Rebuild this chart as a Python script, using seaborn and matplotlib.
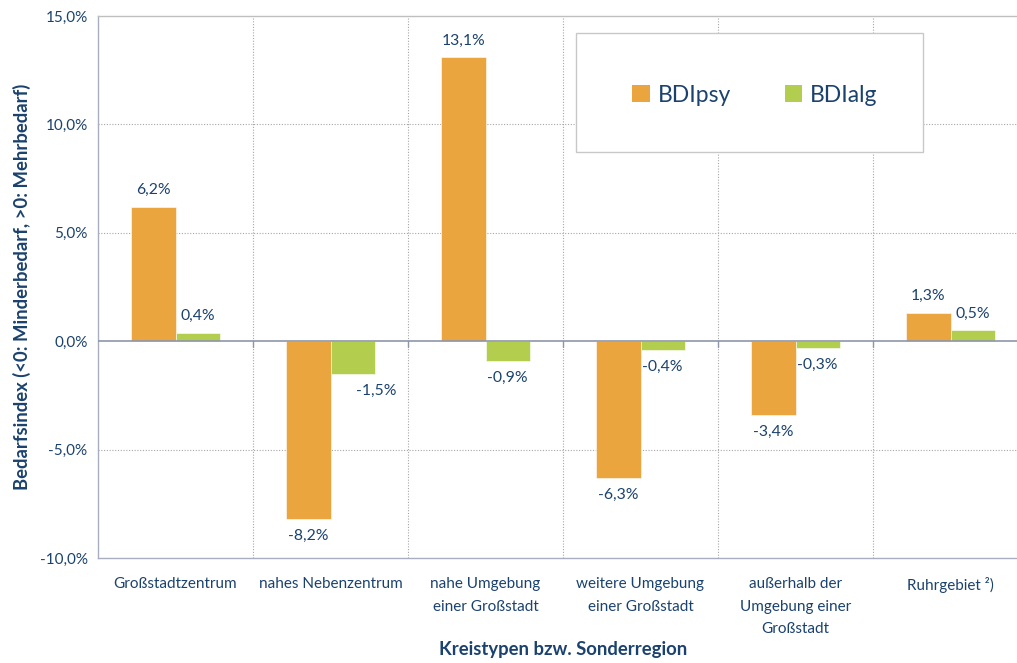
import matplotlib
matplotlib.use("Agg")
import matplotlib.pyplot as plt
from matplotlib.patches import Rectangle, Patch
from matplotlib.ticker import FuncFormatter
import seaborn as sns
import pandas as pd

categories = ["Großstadtzentrum", "nahes Nebenzentrum", "nahe Umgebung\neiner Großstadt",
              "weitere Umgebung\neiner Großstadt", "außerhalb der\nUmgebung einer\nGroßstadt",
              "Ruhrgebiet ²)"]
series = ["BDIpsy", "BDIalg"]
bdipsy = [6.2, -8.2, 13.1, -6.3, -3.4, 1.3]
bdialg = [0.4, -1.5, -0.9, -0.4, -0.3, 0.5]
colors = ["#EBA53E", "#B3CD4E"]

sns.set_theme(style="white")
plt.rcParams["font.family"] = ["Lato", "DejaVu Sans"]

df = pd.DataFrame({
    "Kategorie": categories * 2,
    "Serie": [series[0]] * len(categories) + [series[1]] * len(categories),
    "Wert": bdipsy + bdialg,
})

text_col = "#1B426E"
grid_col = "#A6A6A6"
axis_col = "#8E96AA"

fig = plt.figure(figsize=(10.17, 6.63), dpi=100)
ax = fig.add_axes([98 / 1017, 105 / 663, 930 / 1017, 542 / 663])

sns.barplot(data=df, x="Kategorie", y="Wert", hue="Serie", order=categories,
            hue_order=series, palette=colors, width=0.57, gap=0, saturation=1,
            edgecolor="white", linewidth=0.4, ax=ax, legend=False)

ax.set_xlim(-0.5, 5.5)
ax.set_ylim(-10, 15)
ax.set_yticks([-10, -5, 0, 5, 10, 15])
ax.yaxis.set_major_formatter(FuncFormatter(lambda v, p: f"{v:.1f}%".replace(".", ",")))
ax.tick_params(axis="y", labelsize=11, colors=text_col, length=4, width=0.8, direction="out")
ax.tick_params(axis="y", color=axis_col)
ax.tick_params(axis="x", labelsize=11, colors=text_col, length=0, pad=14)
for t in ax.get_xticklabels():
    t.set_linespacing(1.75)
    t.set_verticalalignment("top")

# grid
for y in [-5, 5, 10]:
    ax.axhline(y, color=grid_col, lw=0.8, ls=(0, (1, 1.5)), zorder=0)
for x in [0.5, 1.5, 2.5, 3.5, 4.5]:
    ax.axvline(x, color=grid_col, lw=0.8, ls=(0, (1, 1.5)), zorder=0)
ax.axhline(0, color=axis_col, lw=1.2, zorder=3)
for x in [0.5, 1.5, 2.5, 3.5, 4.5]:
    ax.plot([x, x], [0, -0.25], color=axis_col, lw=1.0, zorder=3)

for s in ["left", "bottom", "top"]:
    ax.spines[s].set_visible(True)
    ax.spines[s].set_color("#A8AEBD")
    ax.spines[s].set_linewidth(1.0)
ax.spines["right"].set_visible(False)
ax.spines["top"].set_color("#BFBFBF")

# data labels
bw = 0.57 / 2
off = {(1, 1): 0.15}
for i in range(len(categories)):
    for j, vals in enumerate([bdipsy, bdialg]):
        v = vals[i]
        x = i - bw / 2 + j * bw + off.get((i, j), 0)
        lab = f"{v:.1f}%".replace(".", ",")
        if v >= 0:
            ax.text(x, v + 0.45, lab, ha="center", va="bottom", fontsize=11.3, color=text_col)
        else:
            ax.text(x, v - 0.45, lab, ha="center", va="top", fontsize=11.3, color=text_col)

ax.set_xlabel("Kreistypen bzw. Sonderregion", fontsize=13.3, fontweight="bold",
              color=text_col)
ax.xaxis.set_label_coords((563 - 98) / 930, -0.153)
ax.set_ylabel("Bedarfsindex (<0: Minderbedarf, >0: Mehrbedarf)", fontsize=13.3,
              fontweight="bold", color=text_col, labelpad=6)

# legend box
box = Rectangle(((576 - 98) / 930, (558 - 152) / 542), (923 - 576) / 930, (152 - 33) / 542,
                transform=ax.transAxes, facecolor="white", edgecolor="#C8C8C8", lw=1.0, zorder=4)
ax.add_patch(box)
handles = [Patch(facecolor=c, edgecolor="none") for c in colors]
leg = ax.legend(handles, series, loc="center", bbox_to_anchor=((755 - 98) / 930, (558 - 95) / 542),
                ncol=2, frameon=False, fontsize=16.5, handlelength=0.75, handleheight=0.75,
                handletextpad=0.35, columnspacing=2.35, labelcolor=text_col)
leg.set_zorder(5)

fig.savefig("out.png", dpi=100)
